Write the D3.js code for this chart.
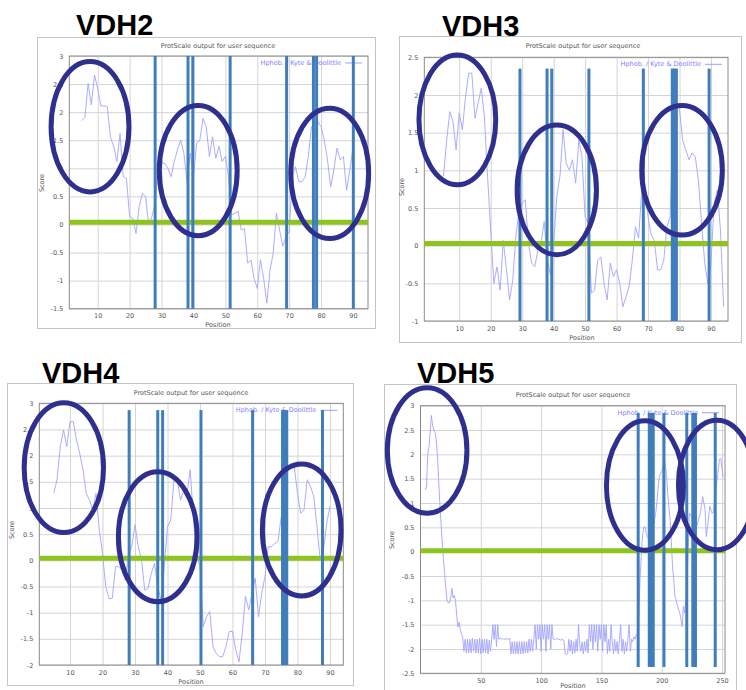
<!DOCTYPE html>
<html>
<head>
<meta charset="utf-8">
<script src="https://cdn.jsdelivr.net/npm/d3@7"></script>
<style>
  body { margin: 0; background: #fff; }
  svg { display: block; }
  .small-text { font-family: "DejaVu Sans", sans-serif; font-size: 6.5px; fill: #555; }
  .panel-name { font-family: "Liberation Sans", Arial, sans-serif; font-weight: bold; font-size: 29px; fill: #000; }
</style>
</head>
<body>
<svg id="chart" width="746" height="690"></svg>
<script>
// --- chart values ---
const plotTitle = 'ProtScale output for user sequence';
const legendLabel = 'Hphob. / Kyte & Doolittle';
const xTicksShort = [10, 20, 30, 40, 50, 60, 70, 80, 90];
const xTicksLong = [50, 100, 150, 200, 250];

// VDH2
const vdh2Start = 5;
const vdh2Scores = [1.85, 1.91, 2.51, 2.13, 2.66, 2.42, 2.11, 2.11, 2.1, 1.56,
  1.39, 1.12, 1.62, 0.85, 0.82, 0.14, 0.11, -0.16, 0.32, 0.55,
  0.5, -0.01, 0.14, 0.38, 1.09, 1.09, 1.09, 1.0, 0.85, 1.12,
  1.33, 1.5, 1.27, 0.76, 1.27, 0.85, 1.45, 1.5, 1.89, 1.74,
  1.21, 1.56, 1.18, 1.39, 1.12, 1.21, 0.85, 0.17, 0.2, 0.23,
  -0.1, -0.07, -0.69, -0.63, -0.96, -1.14, -0.63, -0.96, -1.4, -0.81,
  -0.51, 0.2, -0.1, -0.39, -0.22, -0.13, 0.85, 1.03, 0.76, 0.76,
  0.85, 1.21, 1.74, 1.62, 1.83, 1.74, 1.5, 1.15, 0.67, 0.97,
  1.36, 1.15, 1.21, 0.61, 0.97, 1.36];
const vdh2Yticks = [-1.5, -1, -0.5, 0, 0.5, 1, 1.5, 2, 2.5, 3];
const vdh2Bars = [28, 38.3, 39.8, 51.5, 69.2, 77.6, 78.6, 90.1];
const vdh2BarSpan = [-1.5, 3];
const vdh2Threshold = 0.04;
const vdh2Circles = [
  { pos: 7.6, score: 1.74, dPos: 12.2, dScore: 1.16 },
  { pos: 41.5, score: 0.96, dPos: 12.2, dScore: 1.16 },
  { pos: 82.7, score: 0.91, dPos: 12.2, dScore: 1.16 }
];

// VDH3
const vdh3Start = 5;
const vdh3Scores = [0.92, 1.4, 1.78, 1.65, 1.27, 1.76, 1.54, 1.98, 2.29, 2.29,
  1.69, 1.89, 2.09, 1.71, 0.92, 0.21, -0.5, -0.28, -0.59, 0.07,
  -0.32, -0.72, -0.46, 0.12, 0.47, 0.56, 0.61, 0.03, -0.23, -0.28,
  -0.06, 0.03, 0.32, -0.19, -0.39, 0.03, 0.65, 0.92, 1.54, 1.09,
  1.0, 1.14, 0.83, 1.4, 1.18, 0.38, 0.3, -0.63, -0.59, -0.19,
  -0.15, -0.5, -0.72, -0.23, -0.41, -0.32, -0.5, -0.81, -0.68, -0.54,
  -0.19, 0.25, 0.1, 0.74, 0.83, 0.38, 0.14, 0.07, -0.32, -0.32,
  -0.19, 0.25, 0.38, 1.71, 1.93, 1.8, 1.4, 1.27, 1.14, 1.23,
  1.18, 0.87, 0.3, -0.23, -0.5, -0.23, 0.56, 0.74, 0.21, -0.81];
const vdh3Yticks = [-1, -0.5, 0, 0.5, 1, 1.5, 2, 2.5];
const vdh3Bars = [29.3, 37.9, 39.4, 51.2, 68.5, 77.7, 78.4, 79.0, 89.4];
const vdh3BarSpan = [-1, 2.35];
const vdh3Threshold = 0.03;
const vdh3Circles = [
  { pos: 9.4, score: 1.67, dPos: 12.2, dScore: 0.86 },
  { pos: 41, score: 0.74, dPos: 12.6, dScore: 0.86 },
  { pos: 80.8, score: 1.0, dPos: 12.8, dScore: 0.86 }
];

// VDH4
const vdh4Start = 5;
const vdh4Scores = [1.28, 1.54, 2.17, 2.49, 2.17, 2.65, 2.65, 2.3, 2.04, 1.73,
  1.28, 1.15, 0.96, 1.28, 0.58, 0.13, -0.5, -0.73, -0.73, -0.12,
  -0.12, -0.18, -0.38, 0.13, 0.26, 0.68, 0.26, 0.01, -0.57, -0.54,
  -0.25, -0.06, -0.5, -0.76, -0.12, 0.64, 0.77, 1.54, 1.54, 1.15,
  1.34, 1.28, 1.73, 0.77, 0.07, -0.12, -1.27, -1.08, -0.98, -1.65,
  -1.78, -1.84, -1.84, -1.65, -1.36, -1.36, -1.71, -1.94, -1.39, -0.69,
  -0.95, -0.63, -0.34, -1.08, -0.63, -0.31, 0.26, 0.26, 0.32, 0.36,
  0.83, 1.03, 1.73, 1.85, 1.79, 1.28, 0.9, 0.96, 1.54, 1.41,
  1.22, 0.64, 0.01, 0.2, 0.71, 1.03];
const vdh4Yticks = [-2, -1.5, -1, -0.5, 0, 0.5, 1, 1.5, 2, 2.5, 3];
const vdh4Bars = [28.2, 37.0, 38.5, 50.3, 66.2, 75.4, 76.1, 76.7, 87.7];
const vdh4BarSpan = [-2, 2.87];
const vdh4Threshold = 0.04;
const vdh4Circles = [
  { pos: 8.1, score: 1.77, dPos: 12.2, dScore: 1.24 },
  { pos: 37.0, score: 0.45, dPos: 12.1, dScore: 1.24 },
  { pos: 81.3, score: 0.58, dPos: 12.1, dScore: 1.26 }
];

// VDH5
const vdh5Start = 4;
const vdh5Scores = [1.27, 1.35, 2.0, 2.15, 2.45, 2.8, 2.6, 2.5, 2.45, 2.3,
  2.0, 1.5, 1.0, 0.6, 0.2, -0.15, -0.45, -0.75, -1.0, -1.05,
  -1.05, -0.95, -0.75, -0.95, -0.9, -1.0, -1.3, -1.55, -1.45, -1.6,
  -1.7, -1.75, -2.05, -1.8, -2.08, -1.8, -2.08, -1.8, -2.08, -1.78,
  -2.05, -1.8, -2.08, -1.8, -2.08, -1.78, -2.1, -1.8, -2.08, -1.8,
  -2.08, -1.8, -2.1, -1.82, -2.05, -1.8, -1.5, -1.8, -1.5, -1.95,
  -1.5, -1.8, -1.78, -1.8, -1.78, -1.8, -1.8, -1.78, -1.8, -1.8,
  -1.78, -2.1, -1.85, -2.1, -1.85, -2.1, -1.85, -2.1, -1.85, -2.1,
  -1.85, -2.1, -1.85, -2.08, -1.85, -2.08, -1.8, -2.05, -1.8, -2.05,
  -1.8, -1.5, -2.0, -1.5, -1.8, -1.5, -2.05, -1.5, -1.8, -1.5,
  -2.05, -1.5, -1.8, -1.5, -2.0, -1.5, -1.8, -1.8, -1.8, -1.78,
  -1.8, -1.8, -1.82, -1.8, -1.8, -1.85, -2.1, -2.12, -2.1, -1.8,
  -2.05, -1.82, -2.1, -1.85, -2.08, -1.8, -2.05, -1.5, -1.9, -2.05,
  -1.85, -2.1, -1.85, -2.05, -1.8, -2.08, -1.5, -1.85, -1.5, -2.0,
  -1.5, -1.85, -1.5, -2.05, -1.5, -1.8, -1.5, -2.05, -1.5, -1.85,
  -1.5, -2.1, -1.8, -2.05, -1.5, -1.85, -2.1, -1.8, -2.05, -1.85,
  -2.1, -1.8, -1.5, -2.05, -1.8, -2.1, -1.85, -2.05, -1.8, -1.5,
  -2.05, -1.8, -1.85, -1.75, -1.8, -1.7, -1.75, -1.3, -0.6, -0.1,
  0.3, 0.5, 0.52, 0.4, 0.31, 0.28, 0.25, 0.24, 0.35, 0.5,
  0.65, 0.79, 1.0, 1.3, 1.54, 1.6, 1.65, 1.74, 1.95, 1.75,
  1.61, 1.2, 0.9, 0.65, 0.2, -0.3, -0.58, -0.92, -1.0, -1.1,
  -1.19, -1.26, -1.4, -1.54, -1.12, -1.26, -1.0, -0.58, 0.1, 0.79,
  0.75, 0.7, 0.65, 0.6, 0.55, 0.52, 0.6, 0.7, 0.79, 0.95,
  1.13, 1.0, 0.86, 0.31, 0.5, 0.75, 0.93, 0.85, 0.79, 0.82,
  1.1, 1.3, 1.47, 1.7, 1.9, 1.92, 1.7, 1.54];
const vdh5Yticks = [-2.5, -2, -1.5, -1, -0.5, 0, 0.5, 1, 1.5, 2, 2.5, 3];
const vdh5Bars = [180.5, 189.7, 191.4, 193, 201.9, 220.8, 225.8, 228, 244.4];
const vdh5BarSpan = [-2.37, 2.85];
const vdh5Threshold = 0.02;
const vdh5Circles = [
  { pos: 5.5, score: 2.08, dPos: 33, dScore: 1.29 },
  { pos: 186.1, score: 1.36, dPos: 31.9, dScore: 1.33 },
  { pos: 245.8, score: 1.37, dPos: 31.9, dScore: 1.33 }
];

// --- panel layout ---
const panels = [
  { name: 'VDH2', nameX: 76, nameY: 35,
    frame: { x: 37.5, y: 37.5, w: 338, h: 291 },
    plot: { left: 69.3, right: 368, top: 56, bottom: 308.7 },
    xDomain: [1.1, 94.7], yDomain: [-1.5, 3], xTicks: xTicksShort, yTicks: vdh2Yticks,
    titleX: 218, titleY: 48, scoreX: 44, scoreY: 183, positionX: 218, positionY: 327,
    start: vdh2Start, scores: vdh2Scores, bars: vdh2Bars, barSpan: vdh2BarSpan,
    threshold: vdh2Threshold, circles: vdh2Circles },
  { name: 'VDH3', nameX: 442, nameY: 36,
    frame: { x: 399.5, y: 36.5, w: 342, h: 306 },
    plot: { left: 424.3, right: 728, top: 57.3, bottom: 321 },
    xDomain: [-1.1, 95.4], yDomain: [-1, 2.5], xTicks: xTicksShort, yTicks: vdh3Yticks,
    titleX: 583, titleY: 48, scoreX: 404, scoreY: 187, positionX: 582, positionY: 340,
    start: vdh3Start, scores: vdh3Scores, bars: vdh3Bars, barSpan: vdh3BarSpan,
    threshold: vdh3Threshold, circles: vdh3Circles },
  { name: 'VDH4', nameX: 42, nameY: 383,
    frame: { x: 7.5, y: 383.5, w: 346, h: 302 },
    plot: { left: 39.3, right: 343.3, top: 403.3, bottom: 665 },
    xDomain: [0.55, 94.1], yDomain: [-2, 3], xTicks: xTicksShort, yTicks: vdh4Yticks,
    titleX: 191, titleY: 395, scoreX: 14, scoreY: 530, positionX: 191, positionY: 684,
    start: vdh4Start, scores: vdh4Scores, bars: vdh4Bars, barSpan: vdh4BarSpan,
    threshold: vdh4Threshold, circles: vdh4Circles },
  { name: 'VDH5', nameX: 417, nameY: 383,
    frame: { x: 384.5, y: 384.5, w: 352, h: 320 },
    plot: { left: 420.5, right: 725, top: 405.7, bottom: 673.3 },
    xDomain: [0, 252.5], yDomain: [-2.5, 3], xTicks: xTicksLong, yTicks: vdh5Yticks,
    titleX: 573, titleY: 397, scoreX: 394, scoreY: 540, positionX: 573, positionY: 688,
    start: vdh5Start, scores: vdh5Scores, bars: vdh5Bars, barSpan: vdh5BarSpan,
    threshold: vdh5Threshold, circles: vdh5Circles }
];

const svg = d3.select('#chart');

function drawPanel(p) {
  const x = d3.scaleLinear().domain(p.xDomain).range([p.plot.left, p.plot.right]);
  const y = d3.scaleLinear().domain(p.yDomain).range([p.plot.bottom, p.plot.top]);
  const w = p.plot.right - p.plot.left;
  const h = p.plot.bottom - p.plot.top;
  const g = svg.append('g');

  g.append('text').attr('class', 'panel-name')
    .attr('x', p.nameX).attr('y', p.nameY).text(p.name);

  g.append('rect')
    .attr('x', p.frame.x).attr('y', p.frame.y)
    .attr('width', p.frame.w).attr('height', p.frame.h)
    .attr('fill', '#fff').attr('stroke', '#c4c4c4');

  // grid + tick labels
  const yAxis = g.append('g')
    .attr('transform', `translate(${p.plot.left},0)`)
    .call(d3.axisLeft(y).tickValues(p.yTicks).tickSize(-w).tickPadding(6).tickFormat(d => String(d)));
  const xAxis = g.append('g')
    .attr('transform', `translate(0,${p.plot.bottom})`)
    .call(d3.axisBottom(x).tickValues(p.xTicks).tickSize(-h).tickPadding(5).tickFormat(d => String(d)));
  [yAxis, xAxis].forEach(ax => {
    ax.select('.domain').remove();
    ax.selectAll('.tick line').attr('stroke', '#d4d4d4').attr('stroke-width', 1);
    ax.selectAll('.tick text').attr('class', 'small-text').attr('fill', null)
      .style('font-family', '"DejaVu Sans", sans-serif').style('font-size', '6.5px');
  });

  g.append('rect')
    .attr('x', p.plot.left).attr('y', p.plot.top)
    .attr('width', w).attr('height', h)
    .attr('fill', 'none').attr('stroke', '#8a8a8a');

  g.append('text').attr('class', 'small-text')
    .attr('x', p.titleX).attr('y', p.titleY).attr('text-anchor', 'middle').text(plotTitle);
  g.append('text').attr('class', 'small-text')
    .attr('x', p.positionX).attr('y', p.positionY).attr('text-anchor', 'middle').text('Position');
  g.append('text').attr('class', 'small-text')
    .attr('transform', `translate(${p.scoreX},${p.scoreY}) rotate(-90)`)
    .attr('text-anchor', 'middle').text('Score');

  // legend
  g.append('text').attr('class', 'small-text').style('fill', '#8080ff')
    .attr('x', p.plot.right - 27).attr('y', p.plot.top + 9)
    .attr('text-anchor', 'end').text(legendLabel);
  g.append('line')
    .attr('x1', p.plot.right - 23).attr('x2', p.plot.right - 6)
    .attr('y1', p.plot.top + 7).attr('y2', p.plot.top + 7)
    .attr('stroke', '#9d9dff').attr('stroke-width', 1);

  // hydropathy curve
  const line = d3.line()
    .x((d, i) => x(p.start + i))
    .y(d => y(d));
  g.append('path')
    .datum(p.scores)
    .attr('fill', 'none')
    .attr('stroke', '#a3a3ff')
    .attr('stroke-width', 0.9)
    .attr('d', line);

  // threshold band
  g.append('line')
    .attr('x1', p.plot.left).attr('x2', p.plot.right)
    .attr('y1', y(p.threshold)).attr('y2', y(p.threshold))
    .attr('stroke', '#8fc31f').attr('stroke-width', 5);

  // marker bars
  g.append('g').selectAll('line').data(p.bars).join('line')
    .attr('x1', d => x(d)).attr('x2', d => x(d))
    .attr('y1', y(p.barSpan[0])).attr('y2', y(p.barSpan[1]))
    .attr('stroke', '#3f7dbd').attr('stroke-width', 3);

  // highlighted regions
  g.append('g').selectAll('ellipse').data(p.circles).join('ellipse')
    .attr('cx', d => x(d.pos)).attr('cy', d => y(d.score))
    .attr('rx', d => x(d.pos + d.dPos) - x(d.pos))
    .attr('ry', d => y(d.score - d.dScore) - y(d.score))
    .attr('fill', 'none')
    .attr('stroke', '#2e2f8e').attr('stroke-width', 5);
}

panels.forEach(drawPanel);
</script>
</body>
</html>
